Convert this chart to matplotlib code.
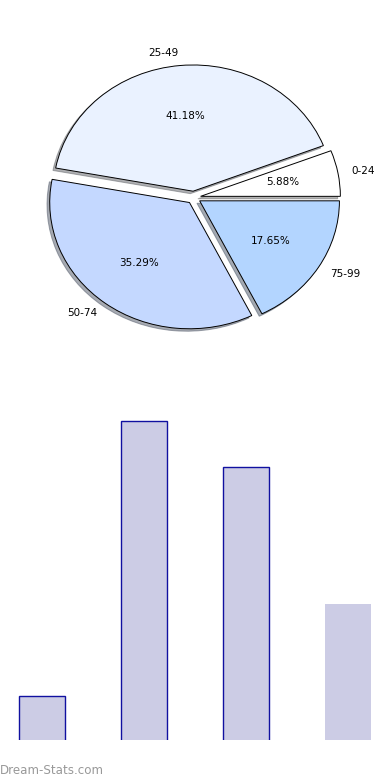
import matplotlib
matplotlib.use("Agg")
import matplotlib.pyplot as plt

# data
labels = ["0-24", "25-49", "50-74", "75-99"]
counts = [1, 7, 6, 3]
pie_colors = ["#ffffff", "#eaf2ff", "#c4d8ff", "#b3d5ff"]
explode = [0.05, 0.05, 0.05, 0.05]
bar_edges = ["#1010a0", "#1010a0", "#1010a0", "none"]

fig = plt.figure(figsize=(3.9, 7.8), dpi=100)

# pie chart
ax1 = fig.add_axes([0.0487, 0.5445, 0.896, 0.4046])
wedges, texts, autotexts = ax1.pie(
    counts, labels=labels, colors=pie_colors, explode=explode,
    autopct="%.2f%%", shadow={"ox": -0.014, "oy": -0.014, "shade": 0.6},
    startangle=0,
    wedgeprops={"edgecolor": "black", "linewidth": 0.7},
    textprops={"fontsize": 7.5},
)
ax1.set_aspect("auto")
ax1.set_xlim(-1.25, 1.25)
ax1.set_ylim(-1.25, 1.25)

# bar chart
ax2 = fig.add_axes([0.0, 0.0513, 1.0, 0.436])
x = list(range(len(counts)))
for i in x:
    ax2.bar(i, counts[i], width=0.45, color="#ccccE5",
            edgecolor=bar_edges[i], linewidth=1.0)
ax2.set_xlim(-0.41, 3.41)
ax2.set_ylim(0.03, 7.46)
ax2.axis("off")

fig.text(0.0, 0.012, "Dream-Stats.com", fontsize=8.6, color="#999999",
         ha="left", va="center")

plt.savefig("out.png", dpi=100)
